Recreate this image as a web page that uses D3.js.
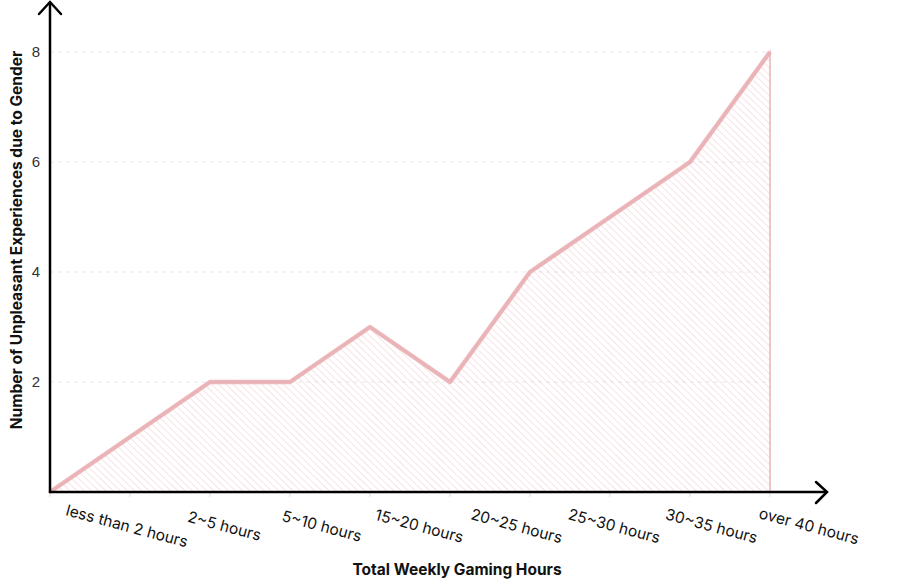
<!DOCTYPE html>
<html>
<head>
<meta charset="utf-8">
<script src="https://cdn.jsdelivr.net/npm/d3@7"></script>
<style>
  body { margin: 0; background: #fff; }
  text { font-family: Inter, "DejaVu Sans", sans-serif; }
</style>
</head>
<body>
<svg id="chart"></svg>
<script>
    // data
    var steps = [0, 1, 2, 3, 4, 5, 6, 7, 8, 9];
    var counts = [0, 1, 2, 2, 3, 2, 4, 5, 6, 8];
    var hourLabels = ["less than 2 hours", "2~5 hours", "5~10 hours", "15~20 hours",
        "20~25 hours", "25~30 hours", "30~35 hours", "over 40 hours"];
    var yTicks = [2, 4, 6, 8];

    var width = 921, height = 585;
    var pink = "#e9b0b5";

    var svg = d3.select("#chart")
        .attr("width", width)
        .attr("height", height);

    var x = d3.scalePoint().domain(steps).range([50, 770]);
    var y = d3.scaleLinear().domain([0, 8]).range([492, 52]);
    var xl = d3.scalePoint().domain(hourLabels).range([127, 809]);

    // hatch pattern for the area, lines run top-left to bottom-right
    var defs = svg.append("defs");
    defs.append("pattern")
        .attr("id", "hatch")
        .attr("patternUnits", "userSpaceOnUse")
        .attr("width", 5)
        .attr("height", 5)
        .attr("patternTransform", "rotate(-46)")
        .append("line")
        .attr("x1", 0).attr("y1", 0)
        .attr("x2", 0).attr("y2", 5)
        .attr("stroke", "#e8949f")
        .attr("stroke-opacity", 0.45)
        .attr("stroke-width", 1.2);

    // dashed grid
    svg.append("g")
        .selectAll("line")
        .data(yTicks)
        .join("line")
        .attr("x1", x(0)).attr("x2", x(9))
        .attr("y1", d => y(d)).attr("y2", d => y(d))
        .attr("stroke", "#e8e8e8")
        .attr("stroke-dasharray", "4,4");

    // small ticks under the x axis
    svg.append("g")
        .selectAll("line")
        .data(steps)
        .join("line")
        .attr("x1", d => x(d)).attr("x2", d => x(d))
        .attr("y1", y(0)).attr("y2", y(0) + 5)
        .attr("stroke", "#ddd");

    var area = d3.area()
        .x((d, i) => x(steps[i]))
        .y0(y(0))
        .y1(d => y(d));

    svg.append("path")
        .datum(counts)
        .attr("d", area)
        .attr("fill", "url(#hatch)");

    // thin outline of the area (right and bottom edges)
    svg.append("path")
        .datum(counts)
        .attr("d", area)
        .attr("fill", "none")
        .attr("stroke", pink)
        .attr("stroke-opacity", 0.8)
        .attr("stroke-width", 1.8);

    var line = d3.line()
        .x((d, i) => x(steps[i]))
        .y(d => y(d));

    svg.append("path")
        .datum(counts)
        .attr("d", line)
        .attr("fill", "none")
        .attr("stroke", pink)
        .attr("stroke-width", 4.5)
        .attr("stroke-linejoin", "round")
        .attr("stroke-opacity", 0.9);

    // axes drawn as arrows
    var axisG = svg.append("g")
        .attr("fill", "none")
        .attr("stroke", "#000")
        .attr("stroke-width", 2.5)
        .attr("stroke-linecap", "round");

    axisG.append("path")
        .attr("d", "M" + x(0) + "," + y(0) + "V3");
    axisG.append("path")
        .attr("d", "M" + (x(0) - 11) + ",14L" + x(0) + ",2L" + (x(0) + 11) + ",14");
    axisG.append("path")
        .attr("d", "M" + x(0) + "," + y(0) + "H826");
    axisG.append("path")
        .attr("d", "M816," + (y(0) - 10) + "L827," + y(0) + "L816," + (y(0) + 11));

    // y tick labels
    svg.append("g")
        .selectAll("text")
        .data(yTicks)
        .join("text")
        .attr("x", 40)
        .attr("y", d => y(d))
        .attr("dy", "0.35em")
        .attr("text-anchor", "end")
        .attr("font-size", 15)
        .attr("fill", "#333")
        .style("font-family", "'Liberation Sans', Arial, sans-serif")
        .text(d => d);

    // x labels, tilted
    svg.append("g")
        .selectAll("text")
        .data(hourLabels)
        .join("text")
        .attr("transform", d => "translate(" + xl(d) + ",526) rotate(15)")
        .attr("text-anchor", "middle")
        .attr("dy", "0.35em")
        .attr("font-size", 15.5)
        .attr("fill", "#111")
        .text(d => d);

    // titles
    svg.append("text")
        .attr("x", 457)
        .attr("y", 575)
        .attr("text-anchor", "middle")
        .attr("font-size", 15.5)
        .attr("font-weight", "bold")
        .attr("fill", "#111")
        .text("Total Weekly Gaming Hours");

    svg.append("text")
        .attr("transform", "translate(22,240) rotate(-90)")
        .attr("text-anchor", "middle")
        .attr("font-size", 15.5)
        .attr("font-weight", "bold")
        .attr("fill", "#111")
        .text("Number of  Unpleasant Experiences due to Gender");
</script>
</body>
</html>
